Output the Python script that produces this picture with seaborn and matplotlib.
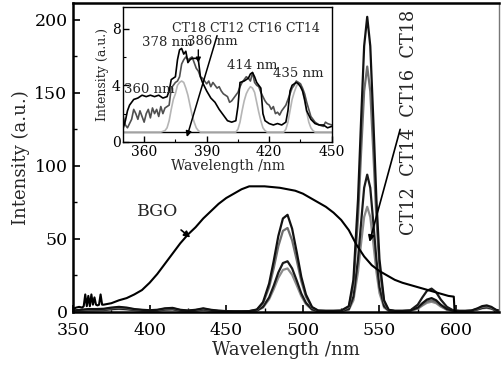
import matplotlib
matplotlib.use("Agg")
import matplotlib.pyplot as plt
import seaborn as sns
from matplotlib.ticker import MultipleLocator

# ---- main panel: CT samples on a shared wavelength grid ----
wl_ct = [350, 355, 360, 365, 370, 375, 380, 385, 390, 395,
         400, 405, 410, 415, 420, 425, 430, 435, 440, 445,
         450, 455, 460, 465, 470, 474, 478, 481, 484, 487,
         490, 493, 496, 499, 502, 506, 510, 515, 520, 525,
         530, 533, 536, 538, 540, 542, 544, 546, 548, 550,
         553, 556, 560, 565, 570, 575, 578, 581, 584, 587,
         590, 594, 598, 602, 606, 610, 614, 617, 620, 623,
         626, 628]

ct18 = [1.0, 1.5, 2.0, 2.0, 2.2, 3.0, 3.5, 3.0, 2.0, 1.5,
        1.2, 1.5, 2.5, 2.8, 1.5, 1.0, 1.5, 2.5, 1.5, 0.9,
        0.6, 0.5, 0.5, 0.6, 1.7, 6.7, 19.5, 35, 52, 64,
        66.5, 57, 41, 24, 12, 3.4, 1.0, 0.8, 0.8, 1.0,
        4, 22, 77, 131, 182, 202, 182, 131, 77, 36,
        8, 1.5, 0.8, 0.8, 1.0, 3.0, 6.0, 8.5, 9.5, 8.0,
        5.0, 2.0, 1.0, 0.8, 0.8, 1.0, 2.5, 4.0, 4.5, 3.5,
        1.5, 1.0]
ct16 = [0.8, 1.2, 1.6, 1.7, 1.8, 2.6, 3.0, 2.6, 1.8, 1.3,
        1.0, 1.3, 2.2, 2.5, 1.3, 0.9, 1.3, 2.2, 1.3, 0.8,
        0.5, 0.5, 0.5, 0.6, 1.5, 5.8, 17, 30, 45, 55.5,
        57.5, 49, 35.5, 21, 10.5, 3.0, 1.0, 0.8, 0.8, 0.9,
        3.4, 18.5, 64, 109, 151, 168, 151, 109, 64, 30,
        6.7, 1.3, 0.8, 0.8, 0.9, 2.5, 5.0, 7.2, 8.0, 6.8,
        4.2, 1.7, 0.9, 0.7, 0.7, 0.9, 2.2, 3.4, 3.8, 3.0,
        1.3, 0.9]
ct14 = [0.6, 1.0, 1.2, 1.3, 1.4, 2.0, 2.3, 2.0, 1.4, 1.0,
        0.8, 1.0, 1.7, 1.9, 1.0, 0.7, 1.0, 1.7, 1.0, 0.6,
        0.4, 0.4, 0.4, 0.5, 1.0, 3.5, 10, 18, 27, 33.5,
        34.7, 29.8, 21.5, 12.6, 6.3, 1.8, 0.6, 0.5, 0.5, 0.6,
        2.0, 10.5, 36, 61, 85, 94, 85, 61, 36, 17,
        4.0, 1.0, 0.6, 0.6, 1.0, 5.0, 10.0, 14.5, 16.0, 13.5,
        8.5, 3.5, 1.2, 0.6, 0.6, 0.8, 1.8, 2.8, 3.2, 2.5,
        1.0, 0.7]
ct12 = [0.5, 0.8, 1.0, 1.1, 1.2, 1.8, 2.0, 1.7, 1.2, 0.9,
        0.7, 0.9, 1.5, 1.7, 0.9, 0.6, 0.9, 1.5, 0.9, 0.5,
        0.4, 0.4, 0.4, 0.5, 0.9, 3.0, 8.7, 15.6, 23.4, 28.8,
        29.8, 25.5, 18.3, 10.8, 5.4, 1.5, 0.5, 0.4, 0.4, 0.5,
        1.5, 8, 27.5, 47, 65, 72, 65, 47, 27.5, 13,
        3.0, 0.8, 0.5, 0.5, 0.8, 2.2, 4.4, 6.3, 7.0, 6.0,
        3.7, 1.5, 0.7, 0.5, 0.5, 0.7, 1.6, 2.5, 2.8, 2.2,
        0.9, 0.6]

# BGO reference crystal
wl_bgo = [350, 352, 354, 356, 357, 358, 359, 360, 361, 362, 363, 364, 365, 366,
          367, 368, 369, 370, 375, 380, 385, 390, 395, 400, 405, 410, 415, 420,
          425, 430, 435, 440, 445, 450, 455, 460, 465, 470, 475, 480, 485, 490,
          495, 500, 505, 510, 515, 520, 525, 530, 535, 540, 545, 550, 555, 560,
          565, 570, 575, 580, 585, 590, 595, 598.5, 599, 600]
bgo = [2, 3, 3.5, 3, 4, 12, 4, 11, 4, 12, 5, 10, 5, 4.5,
       5, 12, 5, 5, 6, 8, 9.5, 12, 15, 20, 26, 33, 40, 47,
       53, 58, 64, 69, 74, 78, 81, 84, 86, 86, 86, 85.5, 85, 84,
       83, 81, 78, 75, 72, 68, 63, 56, 46, 38, 32, 28, 25, 22,
       20, 18.5, 17, 15.5, 14, 12.5, 11, 10.5, 0.5, 0.5]

# ---- inset: 350-450 nm zoom ----
wl_in_a = [350, 351, 352, 353, 355, 357, 359, 361, 363, 365, 367, 369, 371, 372,
           373, 374, 375, 376, 377, 378, 379, 380, 381, 382, 383, 384, 385, 386,
           387, 388, 389, 390, 392, 394, 396, 398, 400, 402, 404, 405, 406, 408,
           410, 411, 412, 413, 414, 415, 416, 417, 418, 420, 422, 424, 426, 428,
           429, 430, 431, 432, 433, 434, 435, 436, 437, 438, 440, 442, 444, 446,
           448, 450]
in_a = [1.0, 1.5, 2.2, 2.6, 3.0, 3.1, 3.3, 3.2, 3.3, 3.2, 3.3, 3.1, 3.2, 3.6,
        4.4, 4.5, 4.6, 5.8, 6.5, 6.6, 6.2, 6.4, 5.6, 5.8, 5.9, 5.9, 5.9, 5.8,
        4.6, 4.2, 3.9, 3.6, 3.1, 2.8, 2.3, 1.9, 1.5, 1.4, 1.5, 2.5, 4.2, 4.3,
        4.5, 4.8, 4.9, 4.6, 4.2, 4.0, 3.8, 2.0, 1.5, 1.3, 1.2, 1.3, 1.2, 1.4,
        2.2, 3.6, 4.0, 4.1, 4.2, 4.1, 3.9, 3.6, 3.0, 2.2, 1.6, 1.3, 1.2, 1.2,
        1.0, 1.1]

wl_in_b = [350, 351, 352, 354, 355, 356, 357, 358, 359, 360, 361, 362, 363, 364,
           365, 366, 367, 368, 369, 370, 371, 372, 373, 374, 375, 376, 377, 378,
           379, 380, 381, 382, 383, 384, 385, 386, 387, 388, 389, 390, 391, 392,
           393, 394, 395, 396, 397, 398, 399, 400, 401, 402, 403, 404, 405, 406,
           407, 408, 409, 410, 411, 412, 413, 414, 415, 416, 417, 418, 419, 420,
           421, 422, 423, 424, 425, 426, 427, 428, 429, 430, 431, 432, 433, 434,
           435, 436, 437, 438, 439, 440, 441, 442, 444, 446, 447, 448, 450]
in_b = [1.8, 1.2, 1.0, 1.6, 2.3, 2.0, 1.6, 2.2, 1.8, 1.4, 2.0, 2.3, 1.7, 2.4,
        2.0, 2.3, 1.8, 2.5, 2.0, 2.4, 2.5, 2.6, 3.8, 4.0, 4.2, 4.3, 4.6, 5.5,
        5.8, 6.0, 5.8, 5.9, 6.0, 5.6, 5.2, 5.0, 4.6, 4.5, 4.3, 4.1, 4.3, 3.9,
        4.2, 4.0, 3.8, 3.9, 3.6, 3.4, 3.3, 3.2, 2.8, 2.9, 3.1, 3.3, 3.5, 3.9,
        4.2, 4.4, 4.6, 4.5, 4.3, 4.9, 4.2, 4.0, 3.9, 3.5, 3.2, 2.9, 2.7, 2.6,
        2.3, 2.5, 2.0, 2.1, 1.9, 2.2, 2.4, 2.6, 3.0, 3.4, 3.8, 4.0, 4.3, 4.2,
        4.1, 3.8, 3.4, 2.8, 2.3, 1.8, 1.6, 1.4, 1.2, 1.1, 1.4, 1.3, 1.2]

wl_in_c = [350, 368, 370, 371, 372, 373, 374, 375, 376, 377, 378, 379, 380, 381,
           382, 383, 384, 385, 386, 387, 404, 405, 406, 407, 408, 409, 410, 411,
           412, 413, 414, 415, 416, 417, 418, 419, 427, 428, 429, 430, 431, 432,
           433, 434, 435, 436, 437, 438, 439, 440, 441, 442, 450]
in_c = [0.7, 0.7, 0.8, 1.0, 1.5, 2.3, 3.0, 3.4, 4.0, 4.2, 4.3, 4.2, 3.8, 3.3,
        2.6, 1.9, 1.4, 1.0, 0.8, 0.7, 0.7, 0.9, 1.4, 2.2, 2.9, 3.4, 3.7, 3.9,
        3.8, 3.5, 2.8, 2.1, 1.5, 1.0, 0.8, 0.7, 0.7, 0.9, 1.4, 2.2, 3.0, 3.5,
        3.9, 4.2, 4.1, 3.6, 2.9, 2.1, 1.4, 1.0, 0.8, 0.7, 0.7]

wl_in_d = [350, 450]
in_d = [0.7, 0.7]

sns.set_theme(style="ticks")
plt.rcParams["font.family"] = ["DejaVu Serif"]
plt.rcParams["axes.edgecolor"] = "black"

fig = plt.figure(figsize=(5.01, 3.69), dpi=100)
ax = fig.add_axes([0.1457, 0.1545, 0.8503, 0.8375])

for y, col in [(ct12, "#8c8c8c"), (ct14, "#1a1a1a"), (ct16, "#6e6e6e"), (ct18, "#111111")]:
    sns.lineplot(x=wl_ct, y=y, ax=ax, color=col, lw=1.6, legend=False)
sns.lineplot(x=wl_bgo, y=bgo, ax=ax, color="black", lw=1.5, legend=False)

ax.set_xlim(350, 628)
ax.set_ylim(0, 211.5)
ax.xaxis.set_major_locator(MultipleLocator(50))
ax.xaxis.set_minor_locator(MultipleLocator(25))
ax.yaxis.set_major_locator(MultipleLocator(50))
ax.yaxis.set_minor_locator(MultipleLocator(25))
ax.tick_params(which="both", direction="in", colors="black", labelsize=12.5)
ax.tick_params(axis="x", pad=7)
ax.tick_params(axis="y", pad=4)
ax.tick_params(which="major", length=5, width=1.2)
ax.tick_params(which="minor", length=3, width=1.0)
for s in ax.spines.values():
    s.set_linewidth(1.8)
ax.spines["right"].set_color("#777777")
ax.spines["right"].set_linewidth(1.0)
ax.set_xlabel("Wavelength /nm", fontsize=13, labelpad=2)
ax.set_ylabel("Intensity (a.u.)", fontsize=13, labelpad=3)

ax.annotate("BGO", xy=(426.5, 51), xytext=(405.5, 69), fontsize=12.5,
            ha="center", va="center",
            arrowprops=dict(arrowstyle="-|>", color="black", lw=1.2,
                            mutation_scale=9, shrinkA=8, shrinkB=0))
ax.text(569, 130, "CT12  CT14  CT16  CT18", rotation=90, fontsize=12.8,
        ha="center", va="center")
ax.annotate("", xy=(543.5, 48), xytext=(563.5, 125),
            arrowprops=dict(arrowstyle="-|>", color="black", lw=1.2,
                            mutation_scale=9, shrinkA=0, shrinkB=0))

# inset
ins = fig.add_axes([0.2461, 0.6152, 0.416, 0.365])
sns.lineplot(x=wl_in_d, y=in_d, ax=ins, color="black", lw=1.0, legend=False)
sns.lineplot(x=wl_in_c, y=in_c, ax=ins, color="#b5b5b5", lw=1.2, legend=False)
sns.lineplot(x=wl_in_b, y=in_b, ax=ins, color="#505050", lw=1.2, legend=False)
sns.lineplot(x=wl_in_a, y=in_a, ax=ins, color="black", lw=1.2, legend=False)
ins.set_xlim(350, 450)
ins.set_ylim(0, 9.5)
ins.set_xticks([360, 390, 420, 450])
ins.set_yticks([0, 4, 8])
ins.xaxis.set_minor_locator(MultipleLocator(15))
ins.yaxis.set_minor_locator(MultipleLocator(2))
ins.tick_params(which="both", direction="in", colors="black", labelsize=10, pad=2)
ins.tick_params(which="major", length=4, width=1.0)
ins.tick_params(which="minor", length=2, width=0.8)
for s in ins.spines.values():
    s.set_linewidth(1.0)
ins.set_xlabel("Wavelength /nm", fontsize=10, labelpad=0)
ins.set_ylabel("Intensity (a.u.)", fontsize=9, labelpad=2)

ins.text(409, 8.0, "CT18 CT12 CT16 CT14", fontsize=9, ha="center", va="center")
ins.text(371, 7.0, "378 nm", fontsize=9.5, ha="center", va="center")
ins.text(392.7, 7.1, "386 nm", fontsize=9.5, ha="center", va="center")
ins.text(411.7, 5.4, "414 nm", fontsize=9.5, ha="center", va="center")
ins.text(433.8, 4.8, "435 nm", fontsize=9.5, ha="center", va="center")
ins.text(362.3, 3.7, "360 nm", fontsize=9.5, ha="center", va="center")
ins.annotate("", xy=(386, 5.6), xytext=(386, 6.5),
             arrowprops=dict(arrowstyle="-|>", color="black", lw=1.0,
                             mutation_scale=7, shrinkA=0, shrinkB=0))
ins.annotate("", xy=(380.5, 0.35), xytext=(395, 7.5),
             arrowprops=dict(arrowstyle="-|>", color="black", lw=1.1,
                             mutation_scale=8, shrinkA=0, shrinkB=0))

fig.savefig("out.png", dpi=100)
